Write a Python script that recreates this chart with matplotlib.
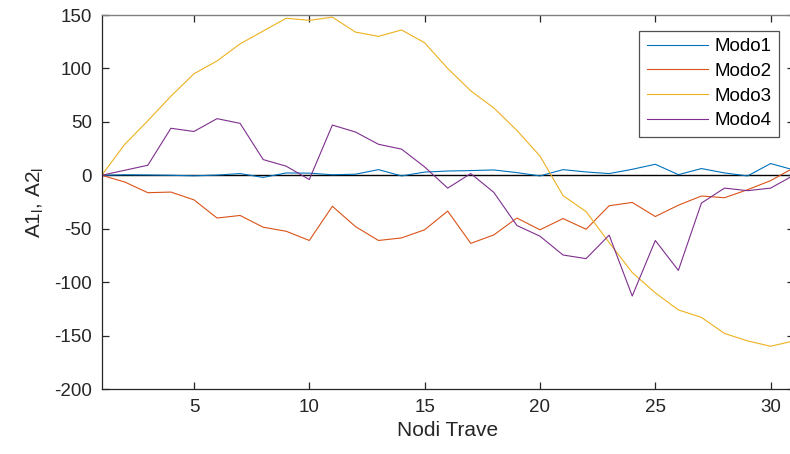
import matplotlib

matplotlib.use("Agg")
import matplotlib.pyplot as plt
import numpy as np

# beam nodes and modal amplitudes
nodes = np.arange(1, 32)
modo1 = [0, 0.5, 0.3, 0, -0.5, 0.2, 1.6, -2, 2.2, 2, 0.5, 1, 5.3, -0.6, 3,
         4, 4.4, 5, 2.5, -0.6, 5.3, 3.1, 1.6, 5.6, 10.3, 0.6, 6.3, 2.2, -0.6,
         11, 5]
modo2 = [0, -6.3, -16.3, -15.7, -23, -40, -37.6, -48.6, -52.4, -61, -29,
         -48, -61, -58.6, -51, -33.5, -63.7, -55.8, -40, -51, -40.5, -50.5,
         -28.5, -25.4, -38.6, -28, -19.4, -21, -13.5, -5, 7]
modo3 = [0, 29, 51, 74, 95, 107, 123, 135, 147, 145, 148, 134, 130, 136, 124,
         100, 79, 63, 42, 18, -19, -34, -63, -91, -110, -126, -133, -148,
         -155, -160, -155]
modo4 = [0, 4.7, 9.4, 44, 41, 53, 48.6, 14.7, 8.5, -4, 47, 40.5, 29, 24.5,
         7.8, -12, 1.6, -16, -47, -57, -74.6, -78, -56, -113, -61, -89, -26,
         -12, -14.4, -12, 0]
series = {"Modo1": modo1, "Modo2": modo2, "Modo3": modo3, "Modo4": modo4}
colors = ["#0072BD", "#D95319", "#EDB120", "#7E2F8E"]

plt.rcParams["font.family"] = ["Liberation Sans", "DejaVu Sans"]
plt.rcParams["axes.unicode_minus"] = False
text_color = "#262626"

fig = plt.figure(figsize=(7.9, 4.54), dpi=100)
W, H = 790, 454
ax = fig.add_axes([101.7 / W, (H - 389) / H, (793.7 - 101.7) / W, (389 - 15) / H])

for (name, values), color in zip(series.items(), colors):
    ax.plot(nodes, values, color=color, linewidth=0.8, label=name)
ax.axhline(0, color="black", linewidth=1.0, zorder=1)

ax.set_xlim(1, 31)
ax.set_ylim(-200, 150)
ax.set_xticks([5, 10, 15, 20, 25, 30])
ax.set_yticks(np.arange(-200, 151, 50))
ax.tick_params(direction="in", length=5, width=0.9, colors=text_color,
               labelsize=13.5, top=True, right=True, pad=7)
for side in ["left", "bottom", "right"]:
    ax.spines[side].set_color(text_color)
    ax.spines[side].set_linewidth(0.9)
ax.spines["top"].set_color("#808080")
ax.spines["top"].set_linewidth(1.0)

ax.set_xlabel("Nodi Trave", fontsize=15, color=text_color, labelpad=4)
ax.set_ylabel(r"A1$_\mathregular{l}$, A2$_\mathregular{l}$", fontsize=15,
              color=text_color, labelpad=6)

leg = ax.legend(loc="upper right", bbox_to_anchor=(778.7 / W, 1 - 30.7 / H),
                bbox_transform=fig.transFigure, fontsize=13.5, frameon=True,
                fancybox=False, borderaxespad=0, handlelength=3.3,
                handletextpad=0.3, labelspacing=0.4, borderpad=0.4)
leg.get_frame().set_edgecolor(text_color)
leg.get_frame().set_linewidth(0.9)
for t in leg.get_texts():
    t.set_color("black")

fig.savefig("out.png", dpi=100)
